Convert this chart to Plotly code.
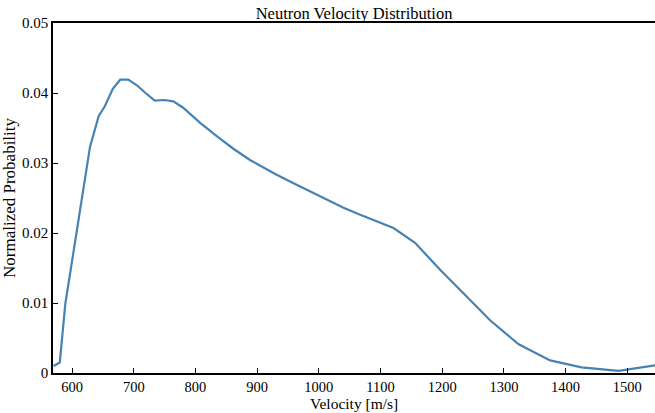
import plotly.graph_objects as go

velocity = [570, 580, 589, 602, 616, 629, 643, 653, 666, 678, 691, 705, 719, 734, 749, 764, 780,
            808, 835, 862, 889, 905, 930, 959, 986, 1013, 1040, 1067, 1094, 1121, 1156, 1197, 1240,
            1278, 1324, 1375, 1426, 1486, 1545]
probability = [0.0010, 0.0015, 0.0099, 0.0172, 0.0247, 0.0323, 0.0367, 0.0381, 0.0406, 0.0419,
               0.0419, 0.0411, 0.0400, 0.0389, 0.0390, 0.0388, 0.0379, 0.0357, 0.0338, 0.0320,
               0.0304, 0.0296, 0.0284, 0.0271, 0.0259, 0.0247, 0.0236, 0.0226, 0.0217, 0.0207,
               0.0186, 0.0147, 0.0109, 0.0075, 0.0041, 0.0018, 0.0008, 0.0003, 0.0011]

x_ticks = [600, 700, 800, 900, 1000, 1100, 1200, 1300, 1400, 1500]
y_ticks = [0, 0.01, 0.02, 0.03, 0.04, 0.05]
y_ticklabels = ["0", "0.01", "0.02", "0.03", "0.04", "0.05"]

FONT = "Palatino Linotype, Book Antiqua, Palatino, Liberation Serif, serif"

fig = go.Figure()
fig.add_trace(go.Scatter(x=velocity, y=probability, mode="lines",
                         line=dict(color="#4682b4", width=2.2), showlegend=False))

fig.update_layout(
    width=655, height=413,
    margin=dict(l=53, r=0, t=23, b=40),
    paper_bgcolor="white", plot_bgcolor="white",
    font=dict(family=FONT, size=14, color="black"),
    title=dict(text="Neutron Velocity Distribution", x=0.5405, xanchor="center",
               y=0.967, yanchor="middle", font=dict(size=16.5, family=FONT)),
    annotations=[dict(text="Velocity [m/s]", xref="paper", yref="paper", x=0.5, y=-0.1143,
                      xanchor="center", yanchor="bottom", showarrow=False, borderpad=0,
                      font=dict(size=15.5, family=FONT))],
)
fig.update_xaxes(
    range=[569, 1545], tickvals=x_ticks, ticks="inside", ticklen=5, tickwidth=1,
    tickcolor="black", showline=True, linecolor="black", linewidth=1.5, mirror=True,
    showgrid=False, zeroline=False,
    tickfont=dict(size=14.5),
)
fig.update_yaxes(
    range=[0, 0.05], tickvals=y_ticks, ticktext=y_ticklabels, ticks="inside", ticklen=5,
    tickwidth=1, tickcolor="black", showline=True, linecolor="black", linewidth=1.5,
    showgrid=False, zeroline=False,
    title=dict(text="Normalized Probability", standoff=5, font=dict(size=17)),
    tickfont=dict(size=15),
)

fig.write_html("out.html")
